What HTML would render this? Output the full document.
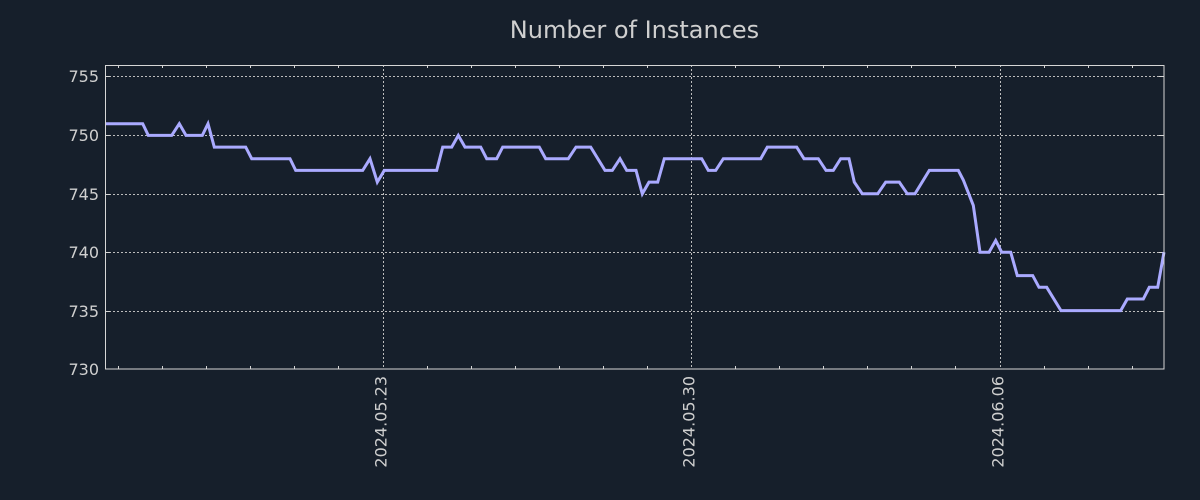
<!DOCTYPE html>
<html>
<head>
<meta charset="utf-8">
<style>
  html, body { margin: 0; padding: 0; background: #161f2b; }
  svg { display: block; }
  text { font-family: "DejaVu Sans", "Liberation Sans", sans-serif; fill: #cfcfcf; }
</style>
</head>
<body>
<svg width="1200" height="500" viewBox="0 0 1200 500" xmlns="http://www.w3.org/2000/svg">
  <rect x="0" y="0" width="1200" height="500" fill="#161f2b"/>

  <!-- title -->
  <text x="634.5" y="38" font-size="24" text-anchor="middle" fill="#d2d2d2">Number of Instances</text>

  <!-- horizontal grid -->
  <g stroke="#bdbdbd" stroke-width="1" stroke-dasharray="2,2" fill="none">
    <line x1="105" y1="76.5" x2="1164" y2="76.5"/>
    <line x1="105" y1="135.5" x2="1164" y2="135.5"/>
    <line x1="105" y1="194.5" x2="1164" y2="194.5"/>
    <line x1="105" y1="252.5" x2="1164" y2="252.5"/>
    <line x1="105" y1="311.5" x2="1164" y2="311.5"/>
    <!-- vertical grid -->
    <line x1="383.5" y1="65" x2="383.5" y2="369"/>
    <line x1="691.5" y1="65" x2="691.5" y2="369"/>
    <line x1="1000.5" y1="65" x2="1000.5" y2="369"/>
  </g>

  <!-- y ticks (inward, left and right) -->
  <g stroke="#d6d6d6" stroke-width="1">
    <line x1="105" y1="76.5" x2="110" y2="76.5"/>
    <line x1="105" y1="135.5" x2="110" y2="135.5"/>
    <line x1="105" y1="194.5" x2="110" y2="194.5"/>
    <line x1="105" y1="252.5" x2="110" y2="252.5"/>
    <line x1="105" y1="311.5" x2="110" y2="311.5"/>
    <line x1="1159" y1="76.5" x2="1164" y2="76.5"/>
    <line x1="1159" y1="135.5" x2="1164" y2="135.5"/>
    <line x1="1159" y1="194.5" x2="1164" y2="194.5"/>
    <line x1="1159" y1="252.5" x2="1164" y2="252.5"/>
    <line x1="1159" y1="311.5" x2="1164" y2="311.5"/>
  </g>

  <!-- x minor ticks (top & bottom, inward) -->
  <g stroke="#d6d6d6" stroke-width="1">
    <path d="M118.5 369v-3 M162.5 369v-3 M206.5 369v-3 M250.5 369v-3 M294.5 369v-3 M338.5 369v-3
             M427.5 369v-3 M471.5 369v-3 M515.5 369v-3 M559.5 369v-3 M603.5 369v-3 M647.5 369v-3
             M735.5 369v-3 M779.5 369v-3 M823.5 369v-3 M867.5 369v-3 M911.5 369v-3 M955.5 369v-3
             M1044.5 369v-3 M1088.5 369v-3 M1132.5 369v-3
             M118.5 65v3 M162.5 65v3 M206.5 65v3 M250.5 65v3 M294.5 65v3 M338.5 65v3
             M427.5 65v3 M471.5 65v3 M515.5 65v3 M559.5 65v3 M603.5 65v3 M647.5 65v3
             M735.5 65v3 M779.5 65v3 M823.5 65v3 M867.5 65v3 M911.5 65v3 M955.5 65v3
             M1044.5 65v3 M1088.5 65v3 M1132.5 65v3" fill="none"/>
  </g>

  <!-- data line -->
  <polyline fill="none" stroke="#aaaaff" stroke-width="3" stroke-linejoin="miter" stroke-miterlimit="3"
    points="105,123.7 142.7,123.7 148.3,135.4 171.7,135.4 179.3,123.7 186,135.4 202.3,135.4 208,123.7 214.3,147.1 245.7,147.1 251.7,158.7 290,158.7 295.7,170.4 362.7,170.4 370,158.7 377.3,182.1 384.3,170.4 436.7,170.4 442.7,147.1 451.7,147.1 458.3,135.4 465,147.1 480.7,147.1 486.7,158.7 496.7,158.7 502.7,147.1 539.3,147.1 545.7,158.7 568.3,158.7 576,147.1 590.7,147.1 605,170.4 612.3,170.4 620,158.7 626.7,170.4 636,170.4 642.3,193.8 649,182.1 657.7,182.1 664.3,158.7 701.7,158.7 708.3,170.4 715.7,170.4 723.3,158.7 760.7,158.7 767.3,147.1 796.7,147.1 804,158.7 818.3,158.7 826,170.4 833.3,170.4 840.7,158.7 849,158.7 854.3,182.1 862.3,193.8 877.7,193.8 885.7,182.1 899.3,182.1 907.3,193.8 915,193.8 929.3,170.4 958.3,170.4 963.3,180 973.3,205.4 980,252.2 989,252.2 995.7,240.5 1001.7,252.2 1010.7,252.2 1017.3,275.6 1032.7,275.6 1039,287.3 1046.7,287.3 1061,310.6 1120.7,310.6 1127.3,299 1143.3,299 1149.3,287.3 1157.7,287.3 1164,252.2"/>

  <!-- spines -->
  <rect x="105.5" y="65.5" width="1058.5" height="303.5" fill="none" stroke="#d6d6d6" stroke-width="1"/>

  <!-- y labels -->
  <g font-size="16" text-anchor="end">
    <text x="99" y="82">755</text>
    <text x="99" y="141">750</text>
    <text x="99" y="200">745</text>
    <text x="99" y="258">740</text>
    <text x="99" y="317">735</text>
    <text x="99" y="375">730</text>
  </g>

  <!-- x labels -->
  <g font-size="16" text-anchor="end">
    <text transform="translate(386.5,376) rotate(-90)">2024.05.23</text>
    <text transform="translate(694.5,376) rotate(-90)">2024.05.30</text>
    <text transform="translate(1003.5,376) rotate(-90)">2024.06.06</text>
  </g>
</svg>
</body>
</html>
